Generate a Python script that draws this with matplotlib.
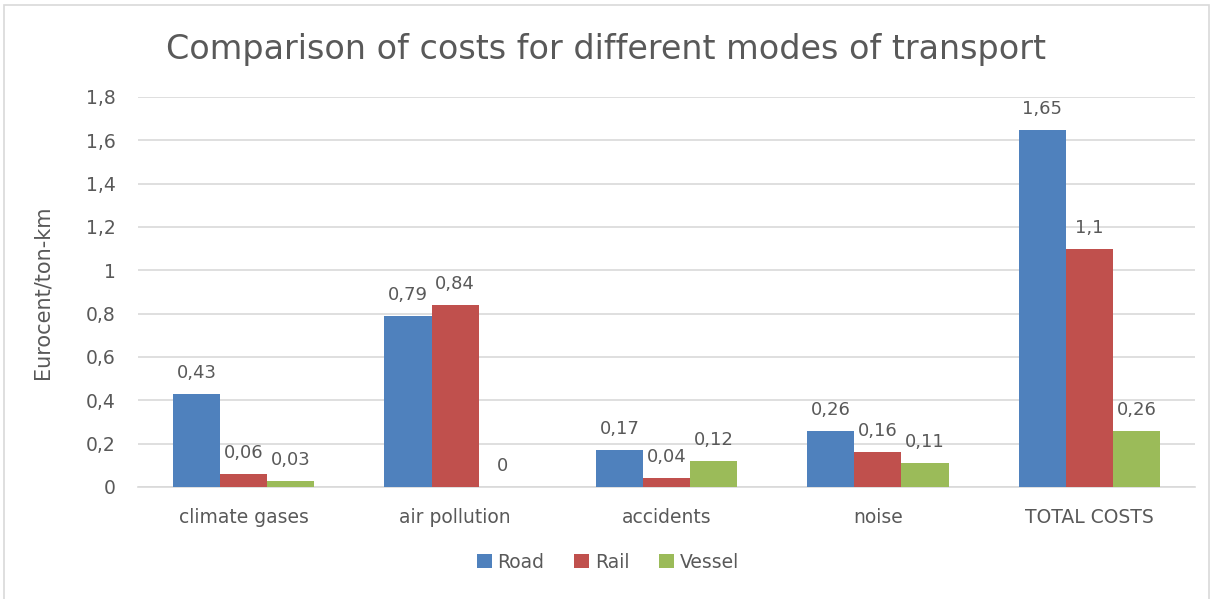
import numpy as np
import matplotlib.pyplot as plt
from matplotlib.patches import Rectangle

categories = ['climate gases', 'air pollution', 'accidents', 'noise', 'TOTAL COSTS']
road = [0.43, 0.79, 0.17, 0.26, 1.65]
rail = [0.06, 0.84, 0.04, 0.16, 1.1]
vessel = [0.03, 0, 0.12, 0.11, 0.26]
series = [('Road', road, '#4F81BD'), ('Rail', rail, '#C0504D'), ('Vessel', vessel, '#9BBB59')]
yticks = np.arange(0, 1.81, 0.2)

txt = '#595959'
plt.rcParams['font.family'] = ['DejaVu Sans']

fig = plt.figure(figsize=(12.13, 5.99), dpi=100)
# outer chart border (bottom edge falls outside the picture)
fig.patches.append(Rectangle((4/1213, -0.02), 1205/1213, 1.02 - 5/599, transform=fig.transFigure,
                             fill=False, edgecolor='#d9d9d9', linewidth=1.2))
ax = fig.add_axes([138/1213, 1 - 487/599, (1195 - 138)/1213, (487 - 97)/599])

x = np.arange(len(categories))
w = 0.223
for i, (name, vals, col) in enumerate(series):
    bars = ax.bar(x + (i - 1) * w, vals, w, color=col, label=name, zorder=3)
    for b, v in zip(bars, vals):
        lab = ('%g' % v).replace('.', ',')
        ax.text(b.get_x() + b.get_width() / 2, v + 0.055, lab, ha='center', va='bottom',
                fontsize=13, color=txt)

ax.set_xlim(-0.5, len(categories) - 0.5)
ax.set_ylim(0, 1.8)
ax.set_yticks(yticks)
ax.set_yticklabels([('%g' % round(t, 1)).replace('.', ',') for t in yticks])
ax.set_xticks(x)
ax.set_xticklabels(categories)
ax.tick_params(axis='both', length=0, labelsize=13.5, colors=txt)
ax.tick_params(axis='y', pad=16)
ax.tick_params(axis='x', pad=15)
ax.grid(axis='y', color='#d9d9d9', linewidth=1.2, zorder=0)
for s in ['top', 'right', 'left']:
    ax.spines[s].set_visible(False)
ax.spines['bottom'].set_color('#d9d9d9')
ax.spines['bottom'].set_linewidth(1.2)
ax.set_ylabel('Eurocent/ton-km', fontsize=15, color=txt, labelpad=24)

fig.text(0.5, 1 - 50/599, 'Comparison of costs for different modes of transport',
         ha='center', va='center', fontsize=24, color=txt)
fig.legend(loc='center', bbox_to_anchor=(608/1213, 1 - 562/599), ncol=3, frameon=False,
           fontsize=13.5, handlelength=0.8, handleheight=0.8, handletextpad=0.3,
           columnspacing=1.6, labelcolor=txt)

fig.savefig('out.png', dpi=100)
